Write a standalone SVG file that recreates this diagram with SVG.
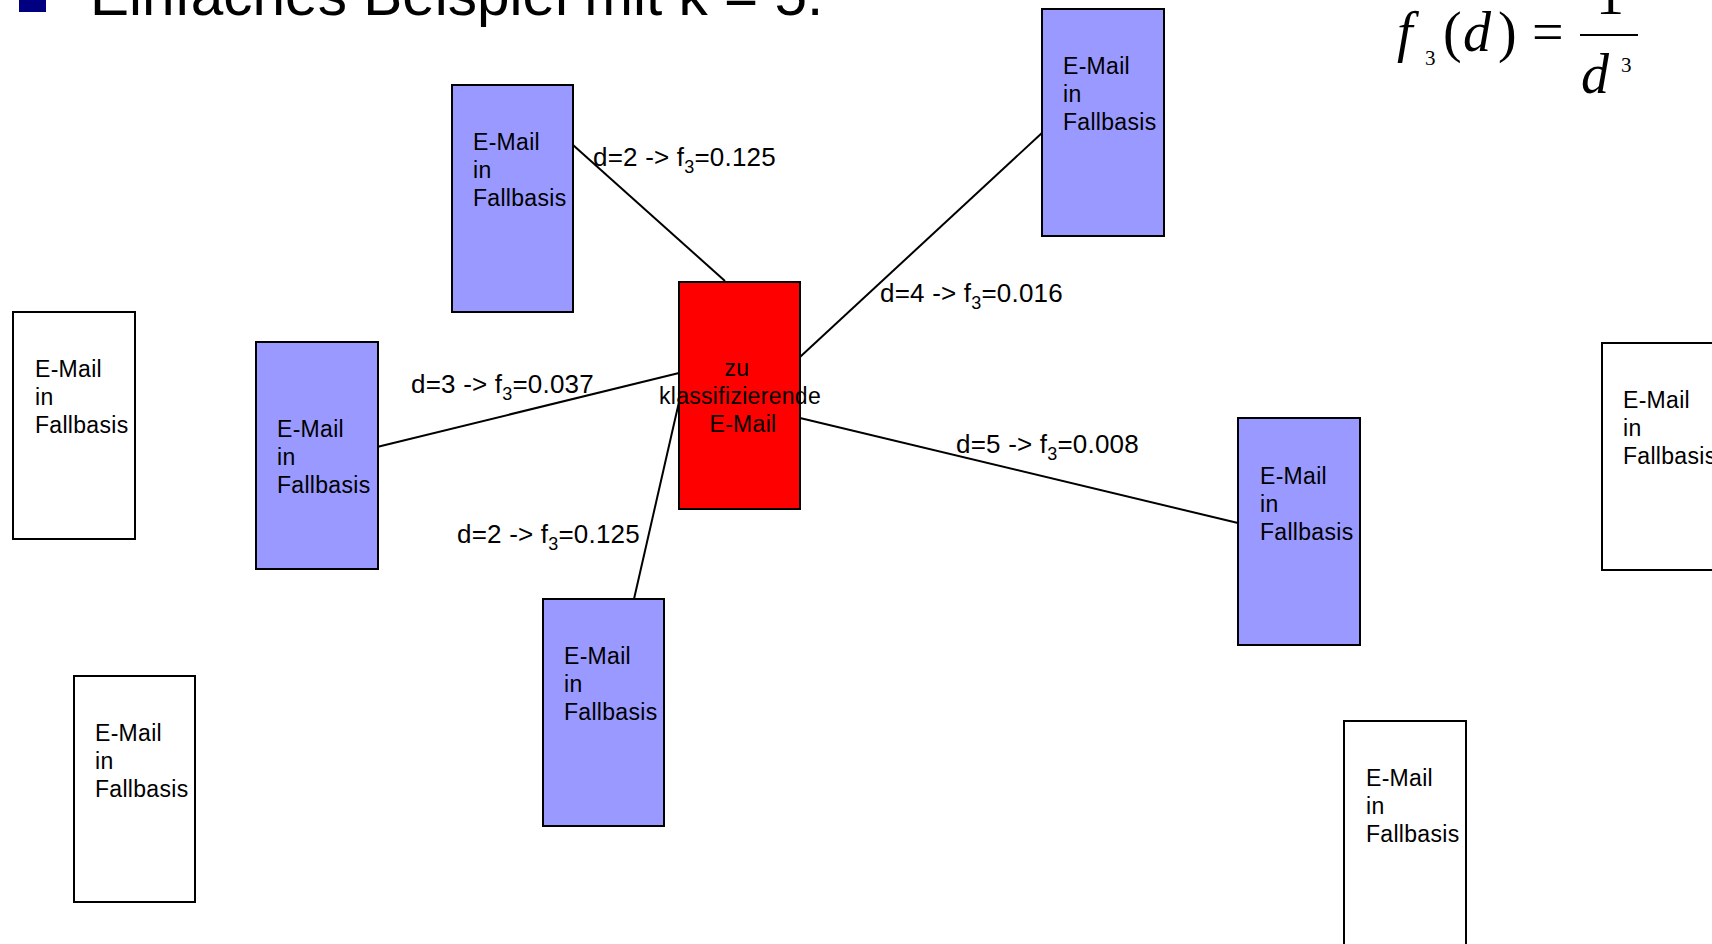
<svg xmlns="http://www.w3.org/2000/svg" width="1712" height="944" viewBox="0 0 1712 944">
  <style>
    .box { stroke: #000; stroke-width: 2; }
    .case { fill: #9999ff; }
    .other { fill: #ffffff; }
    .query { fill: #ff0000; }
    .txt { font-family: "Liberation Sans", Arial, sans-serif; font-size: 23px; letter-spacing: 0.3px; fill: #000; }
    .lbl { font-family: "Liberation Sans", Arial, sans-serif; font-size: 26px; letter-spacing: 0.2px; fill: #000; }
    .sub { font-size: 18px; }
    .edge { stroke: #000; stroke-width: 2; fill: none; }
    .math { font-family: "Liberation Serif", "Times New Roman", serif; fill: #000; }
  </style>

  <rect width="1712" height="944" fill="#ffffff"/>

  <!-- heading -->
  <g id="heading">
    <rect x="19" y="-15" width="27" height="27" fill="#000080"/>
    <text x="90" y="15" font-family="Liberation Sans, Arial, sans-serif" font-size="58.5" fill="#000">Einfaches Beispiel mit k = 5.</text>
  </g>

  <!-- weighting formula f3(d) = 1 / d^3 -->
  <g id="formula" class="math">
    <text x="1397" y="51" font-size="56" font-style="italic">f</text>
    <text x="1425" y="65" font-size="21">3</text>
    <text x="1443" y="51" font-size="56">(</text>
    <text x="1463" y="51" font-size="56" font-style="italic">d</text>
    <text x="1498" y="51" font-size="56">)</text>
    <text x="1532" y="51" font-size="56">=</text>
    <line x1="1580" y1="35" x2="1638" y2="35" stroke="#000" stroke-width="2"/>
    <text x="1610" y="14" font-size="56" text-anchor="middle">1</text>
    <text x="1581" y="93" font-size="56" font-style="italic">d</text>
    <text x="1621" y="72" font-size="21">3</text>
  </g>

  <!-- connectors from the e-mail to classify to its 5 nearest cases -->
  <g id="connectors">
    <line class="edge" x1="573" y1="145" x2="725" y2="281"/>
    <line class="edge" x1="800" y1="357" x2="1043" y2="132"/>
    <line class="edge" x1="377" y1="447" x2="679" y2="373"/>
    <line class="edge" x1="634" y1="599" x2="679" y2="402"/>
    <line class="edge" x1="800" y1="418" x2="1238" y2="523"/>
  </g>

  <!-- nearest cases -->
  <g id="case-top">
    <rect class="box case" x="452" y="85" width="121" height="227"/>
    <text class="txt" x="473" y="150">E-Mail</text>
    <text class="txt" x="473" y="178">in</text>
    <text class="txt" x="473" y="206">Fallbasis</text>
  </g>
  <g id="case-topright">
    <rect class="box case" x="1042" y="9" width="122" height="227"/>
    <text class="txt" x="1063" y="74">E-Mail</text>
    <text class="txt" x="1063" y="102">in</text>
    <text class="txt" x="1063" y="130">Fallbasis</text>
  </g>
  <g id="case-left">
    <rect class="box case" x="256" y="342" width="122" height="227"/>
    <text class="txt" x="277" y="437">E-Mail</text>
    <text class="txt" x="277" y="465">in</text>
    <text class="txt" x="277" y="493">Fallbasis</text>
  </g>
  <g id="case-bottom">
    <rect class="box case" x="543" y="599" width="121" height="227"/>
    <text class="txt" x="564" y="664">E-Mail</text>
    <text class="txt" x="564" y="692">in</text>
    <text class="txt" x="564" y="720">Fallbasis</text>
  </g>
  <g id="case-right">
    <rect class="box case" x="1238" y="418" width="122" height="227"/>
    <text class="txt" x="1260" y="484">E-Mail</text>
    <text class="txt" x="1260" y="512">in</text>
    <text class="txt" x="1260" y="540">Fallbasis</text>
  </g>

  <!-- remaining cases -->
  <g id="other-left">
    <rect class="box other" x="13" y="312" width="122" height="227"/>
    <text class="txt" x="35" y="377">E-Mail</text>
    <text class="txt" x="35" y="405">in</text>
    <text class="txt" x="35" y="433">Fallbasis</text>
  </g>
  <g id="other-bottomleft">
    <rect class="box other" x="74" y="676" width="121" height="226"/>
    <text class="txt" x="95" y="741">E-Mail</text>
    <text class="txt" x="95" y="769">in</text>
    <text class="txt" x="95" y="797">Fallbasis</text>
  </g>
  <g id="other-right">
    <rect class="box other" x="1602" y="343" width="122" height="227"/>
    <text class="txt" x="1623" y="408">E-Mail</text>
    <text class="txt" x="1623" y="436">in</text>
    <text class="txt" x="1623" y="464">Fallbasis</text>
  </g>
  <g id="other-bottomright">
    <rect class="box other" x="1344" y="721" width="122" height="240"/>
    <text class="txt" x="1366" y="786">E-Mail</text>
    <text class="txt" x="1366" y="814">in</text>
    <text class="txt" x="1366" y="842">Fallbasis</text>
  </g>

  <!-- e-mail to classify -->
  <g id="query">
    <rect class="box query" x="679" y="282" width="121" height="227"/>
    <text class="txt" x="737" y="376" text-anchor="middle">zu</text>
    <text class="txt" x="740" y="404" text-anchor="middle">klassifizierende</text>
    <text class="txt" x="743" y="432" text-anchor="middle">E-Mail</text>
  </g>

  <!-- distance / weight labels -->
  <g id="labels">
    <text class="lbl" x="593" y="166">d=2 -&gt; f<tspan class="sub" dy="7">3</tspan><tspan dy="-7">=0.125</tspan></text>
    <text class="lbl" x="880" y="302">d=4 -&gt; f<tspan class="sub" dy="7">3</tspan><tspan dy="-7">=0.016</tspan></text>
    <text class="lbl" x="411" y="393">d=3 -&gt; f<tspan class="sub" dy="7">3</tspan><tspan dy="-7">=0.037</tspan></text>
    <text class="lbl" x="457" y="543">d=2 -&gt; f<tspan class="sub" dy="7">3</tspan><tspan dy="-7">=0.125</tspan></text>
    <text class="lbl" x="956" y="453">d=5 -&gt; f<tspan class="sub" dy="7">3</tspan><tspan dy="-7">=0.008</tspan></text>
  </g>
</svg>
